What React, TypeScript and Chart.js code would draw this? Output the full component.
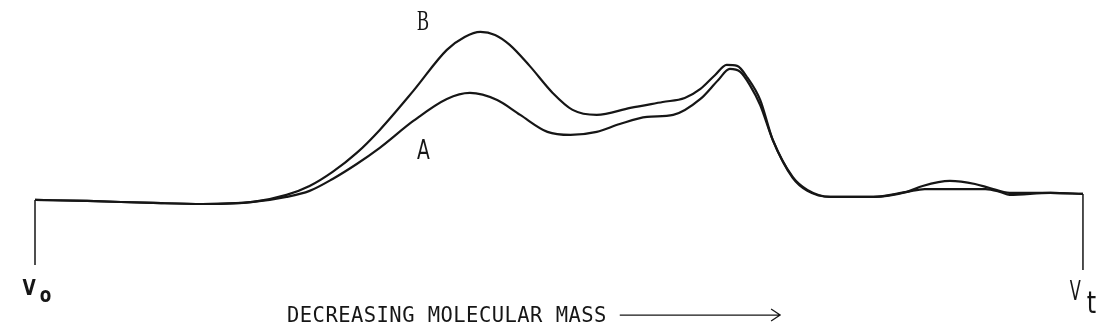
import React, { useEffect, useRef } from "react";
import { Chart, registerables } from "chart.js";

Chart.register(...registerables);

// Relative elution position (V0 = 0, Vt = 100) and relative absorbance (peak B = 1)
const elutionB = [0, 5.0, 11.3, 16.0, 20.8, 24.0, 26.2, 28.4, 30.7, 32.9, 36.1, 39.3, 41.0, 42.5, 43.9, 45.3, 47.2, 49.4, 51.3, 53.6, 56.8, 59.9, 62.0, 63.5, 64.9, 66.0, 67.0, 68.0, 69.2, 70.4, 72.3, 73.7, 75.9, 80.0, 83.2, 84.7, 87.3, 89.7, 91.1, 93.0, 96.9, 100];
const absorbanceB = [0, -0.006, -0.018, -0.024, -0.012, 0.03, 0.083, 0.167, 0.28, 0.417, 0.649, 0.893, 0.97, 1.0, 0.982, 0.923, 0.798, 0.637, 0.536, 0.506, 0.548, 0.583, 0.607, 0.661, 0.744, 0.804, 0.798, 0.726, 0.595, 0.357, 0.137, 0.06, 0.018, 0.018, 0.048, 0.083, 0.113, 0.095, 0.071, 0.042, 0.042, 0.036];

const elutionA = [0, 5.0, 11.3, 16.0, 20.8, 24.0, 26.2, 28.4, 30.7, 32.9, 36.1, 39.3, 41.5, 44.1, 46.3, 48.9, 51.1, 53.6, 55.8, 58.4, 60.9, 63.5, 65.2, 66.3, 67.3, 68.2, 69.2, 70.4, 72.3, 73.7, 75.9, 80.0, 83.2, 84.9, 90.7, 92.1, 93.0, 96.9, 100];
const absorbanceA = [0, -0.006, -0.018, -0.024, -0.012, 0.018, 0.054, 0.125, 0.214, 0.31, 0.47, 0.601, 0.637, 0.595, 0.506, 0.405, 0.387, 0.405, 0.452, 0.494, 0.506, 0.601, 0.714, 0.78, 0.762, 0.685, 0.565, 0.357, 0.131, 0.054, 0.018, 0.018, 0.048, 0.065, 0.065, 0.048, 0.03, 0.042, 0.036];

// Marker lines at void volume (V0) and total volume (Vt)
const markerV0 = [{ x: 0, y: 0 }, { x: 0, y: -0.387 }];
const markerVt = [{ x: 100, y: 0.036 }, { x: 100, y: -0.417 }];

const seriesLabels = ["A", "B"];
const axisCaption = "DECREASING MOLECULAR MASS";

const INK = "#161616";

function toPoints(xs: number[], ys: number[]) {
  return xs.map((x, i) => ({ x, y: ys[i] }));
}

const annotationPlugin = {
  id: "annotations",
  afterDraw(chart: any) {
    const { ctx, scales } = chart;
    const xs = scales.x;
    const ys = scales.y;
    const px = (v: number) => xs.getPixelForValue(v);
    const py = (v: number) => ys.getPixelForValue(v);
    const text = (t: string, x: number, y: number, font: string, sx = 1) => {
      ctx.save();
      ctx.font = font;
      ctx.fillStyle = INK;
      ctx.textBaseline = "alphabetic";
      ctx.textAlign = "left";
      ctx.translate(x, y);
      ctx.scale(sx, 1);
      ctx.fillText(t, 0, 0);
      ctx.restore();
    };
    // Series labels
    text(seriesLabels[1], px(36.45), py(1.012), "30px 'Liberation Serif'", 0.6);
    text(seriesLabels[0], px(36.45), py(0.244), "26px 'DejaVu Sans'", 0.72);
    // V0 and Vt
    text("V", px(-1.2), py(-0.565), "bold 22px 'DejaVu Sans'", 0.78);
    text("o", px(0.45), py(-0.608), "bold 21px 'DejaVu Sans'", 0.8);
    text("V", px(98.75), py(-0.595), "26px 'DejaVu Sans'", 0.62);
    text("t", px(100.35), py(-0.67), "30px 'DejaVu Sans'", 0.8);
    // Caption with arrow
    ctx.save();
    ctx.font = "20.5px 'DejaVu Sans Mono'";
    (ctx as any).letterSpacing = "0.45px";
    ctx.fillStyle = INK;
    ctx.textBaseline = "alphabetic";
    ctx.fillText(axisCaption, px(24.05), py(-0.726));
    ctx.restore();
    ctx.save();
    ctx.strokeStyle = INK;
    ctx.lineWidth = 1.3;
    const ay = py(-0.685);
    const ax0 = px(55.8);
    const ax1 = px(71.1);
    ctx.beginPath();
    ctx.moveTo(ax0, ay);
    ctx.lineTo(ax1, ay);
    ctx.moveTo(ax1 - 9, ay - 6);
    ctx.lineTo(ax1, ay);
    ctx.lineTo(ax1 - 9, ay + 6);
    ctx.stroke();
    ctx.restore();
  },
};

export default function App() {
  const ref = useRef<HTMLCanvasElement>(null);

  useEffect(() => {
    document.body.style.margin = "0";
    const canvas = ref.current;
    if (!canvas) return;
    const lineStyle = {
      borderColor: INK,
      borderWidth: 2.2,
      pointRadius: 0,
      fill: false,
      cubicInterpolationMode: "monotone" as const,
    };
    const chart = new Chart(canvas, {
      type: "line",
      data: {
        datasets: [
          { label: "B", data: toPoints(elutionB, absorbanceB), ...lineStyle },
          { label: "A", data: toPoints(elutionA, absorbanceA), ...lineStyle },
          { label: "V0", data: markerV0, borderColor: INK, borderWidth: 1.5, pointRadius: 0, tension: 0 },
          { label: "Vt", data: markerVt, borderColor: INK, borderWidth: 1.5, pointRadius: 0, tension: 0 },
        ],
      },
      options: {
        animation: false,
        responsive: false,
        maintainAspectRatio: false,
        devicePixelRatio: 1,
        layout: { padding: 0 },
        plugins: { legend: { display: false }, tooltip: { enabled: false }, title: { display: false } },
        scales: {
          x: { type: "linear", display: false, min: -3.34, max: 102.58 },
          y: { type: "linear", display: false, min: -0.774, max: 1.19 },
        },
      },
      plugins: [annotationPlugin],
    });
    return () => chart.destroy();
  }, []);

  return (
    <div style={{ position: "absolute", left: 0, top: 0, width: 1110, height: 330, background: "#fff" }}>
      <canvas ref={ref} width={1110} height={330} />
    </div>
  );
}
